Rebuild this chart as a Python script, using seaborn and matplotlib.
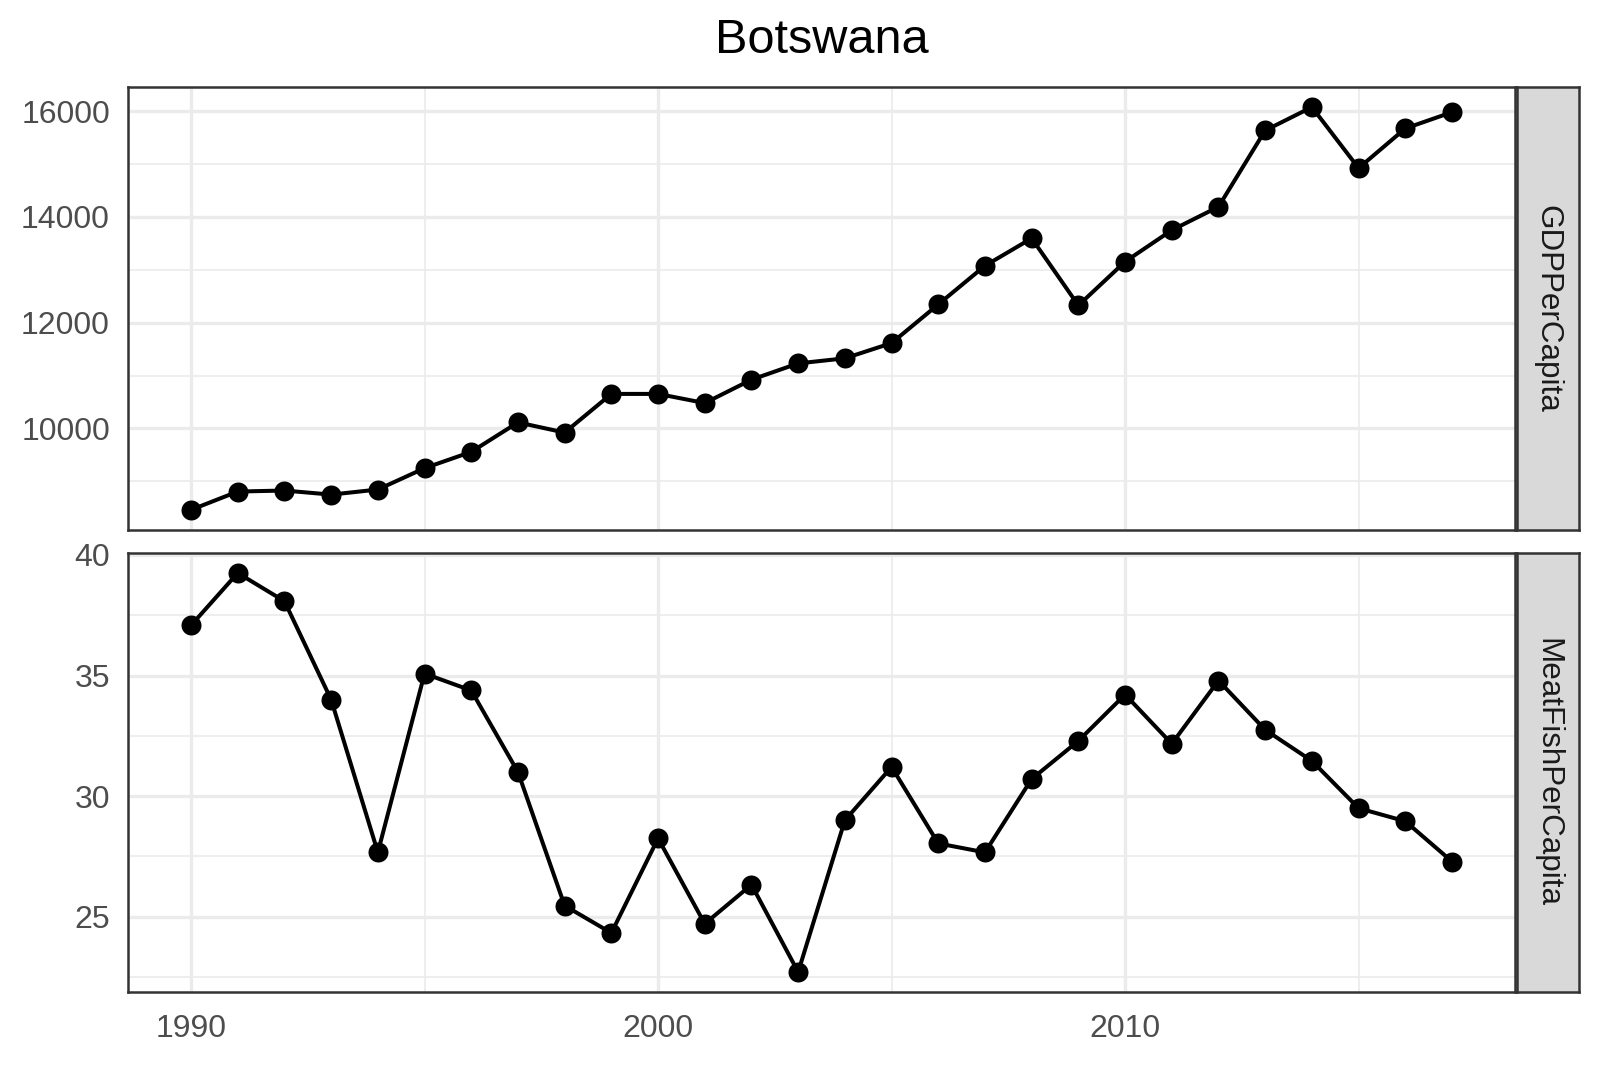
import matplotlib
matplotlib.use("Agg")
import matplotlib.pyplot as plt
import seaborn as sns
from matplotlib.ticker import MultipleLocator

years = list(range(1990, 2018))
gdp_per_capita = [8462, 8808, 8827, 8750, 8846, 9250, 9558, 10115, 9923, 10654,
                  10654, 10481, 10923, 11231, 11327, 11615, 12346, 13077, 13596, 12327,
                  13154, 13750, 14192, 15635, 16077, 14923, 15673, 15981]
meatfish_per_capita = [37.08, 39.25, 38.08, 34.0, 27.67, 35.08, 34.38, 31.0, 25.46, 24.33,
                       28.25, 24.71, 26.33, 22.71, 29.0, 31.21, 28.04, 27.67, 30.71, 32.29,
                       34.21, 32.17, 34.79, 32.75, 31.46, 29.5, 28.96, 27.29]
facet_labels = ["GDPPerCapita", "MeatFishPerCapita"]
title = "Botswana"

sns.set_style("white")
plt.rcParams["font.family"] = ["Liberation Sans", "DejaVu Sans"]

fig = plt.figure(figsize=(8, 5.335), dpi=200)

left, width = 0.08, 0.8669
strip_left, strip_w = 0.948, 0.0388
boxes = [(0.5033, 0.4152), (0.0703, 0.4114)]
series = [gdp_per_capita, meatfish_per_capita]
major = [2000, 5]
minor = [1000, 2.5]

axes = []
for i, (bottom, height) in enumerate(boxes):
    ax = fig.add_axes([left, bottom, width, height])
    ax.set_axisbelow(True)
    ax.xaxis.set_major_locator(MultipleLocator(10))
    ax.xaxis.set_minor_locator(MultipleLocator(5))
    ax.yaxis.set_major_locator(MultipleLocator(major[i]))
    ax.yaxis.set_minor_locator(MultipleLocator(minor[i]))
    ax.grid(which="major", color="#EBEBEB", linewidth=1.2)
    ax.grid(which="minor", color="#EBEBEB", linewidth=0.6)
    sns.lineplot(x=years, y=series[i], ax=ax, color="black", linewidth=1.45,
                 marker="o", markersize=7.2, markeredgewidth=0)
    ax.margins(x=0.05, y=0.05)
    for s in ax.spines.values():
        s.set_color("#333333")
        s.set_linewidth(0.9)
    ax.tick_params(which="major", length=4, width=0.8, color="#333333",
                   labelsize=11.5, labelcolor="#4D4D4D", pad=2.5)
    ax.tick_params(axis="x", pad=4)
    ax.tick_params(which="minor", length=0)
    ax.set_xlabel("")
    ax.set_ylabel("")
    if i == 0:
        ax.tick_params(axis="x", which="both", bottom=False, labelbottom=False)
    axes.append(ax)

    sax = fig.add_axes([strip_left, bottom, strip_w, height])
    sax.set_facecolor("#D9D9D9")
    sax.set_xticks([])
    sax.set_yticks([])
    for s in sax.spines.values():
        s.set_color("#333333")
        s.set_linewidth(0.9)
    sax.text(0.5, 0.5, facet_labels[i], rotation=270, ha="center", va="center",
             fontsize=11.3, color="#1A1A1A", transform=sax.transAxes)

axes[1].set_xlim(axes[0].get_xlim())

fig.text(left + width / 2, 0.962, title, ha="center", va="center", fontsize=17.5,
         color="black")

fig.savefig("out.png", dpi=200)
